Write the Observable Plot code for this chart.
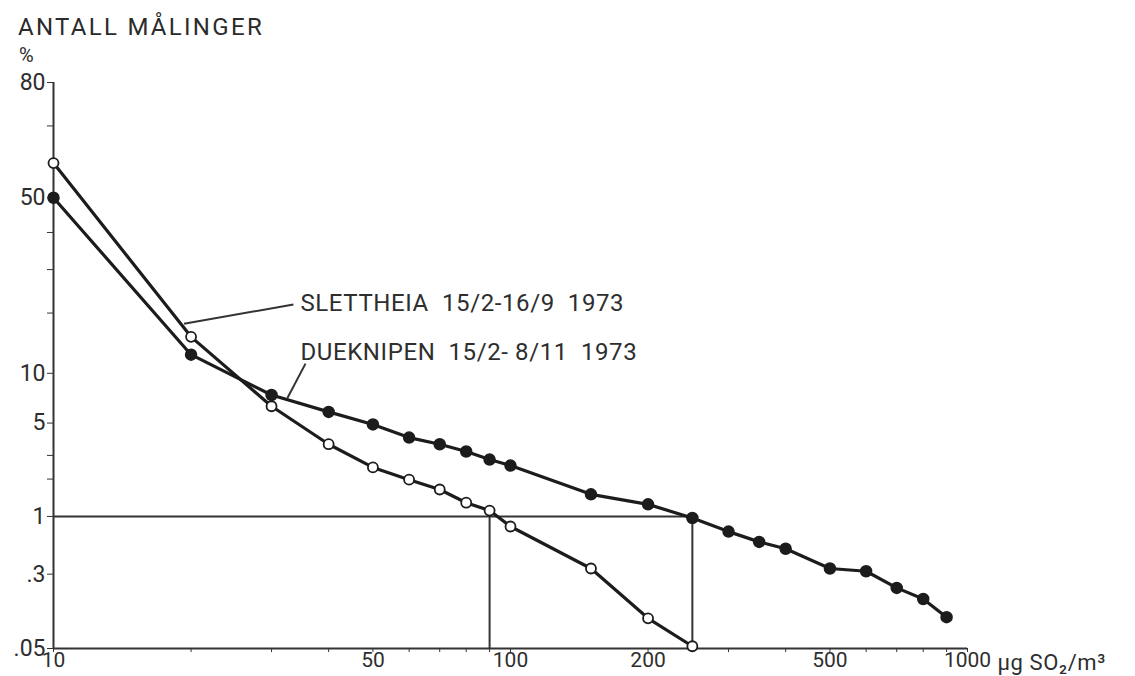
<!DOCTYPE html>
<html>
<head>
<meta charset="utf-8">
<script src="https://cdn.jsdelivr.net/npm/d3@7"></script>
<script src="https://cdn.jsdelivr.net/npm/@observablehq/plot@0.6"></script>
<style>
  html, body { margin: 0; padding: 0; background: #fff; }
  #wrap { position: relative; width: 1135px; height: 676px; overflow: hidden; font-family: Roboto, "DejaVu Sans", sans-serif; color: #2b2b2b; }
  #title { position: absolute; left: 18px; top: 13px; font-size: 24px; letter-spacing: 2.3px; }
  #pct { position: absolute; left: 19px; top: 44px; font-size: 20px; line-height: 22px; }
  #chart svg g[aria-label="text"] text { letter-spacing: 0.6px; }
</style>
</head>
<body>
<div id="wrap">
  <div id="chart"></div>
  <div id="title">ANTALL MÅLINGER</div>
  <div id="pct">%</div>
</div>
<script>
// ---- data ----
const slettheiaX   = [10, 20, 30, 40, 50, 60, 70, 80, 90, 100, 150, 200, 250];
const slettheiaPct = [60, 15.5, 6.4, 3.6, 2.45, 1.98, 1.66, 1.30, 1.12, 0.82, 0.34, 0.107, 0.053];

const dueknipenX   = [10, 20, 30, 40, 50, 60, 70, 80, 90, 100, 150, 200, 250, 300, 350, 400, 500, 600, 700, 800, 900];
const dueknipenPct = [50, 12.6, 7.5, 5.9, 4.9, 4.0, 3.6, 3.2, 2.8, 2.53, 1.52, 1.26, 0.97, 0.74, 0.60, 0.52, 0.34, 0.32, 0.22, 0.17, 0.11];

const seriesNames  = ["SLETTHEIA  15/2-16/9  1973", "DUEKNIPEN  15/2- 8/11  1973"];

const xTicks       = [10, 20, 30, 40, 50, 60, 70, 80, 90, 100, 200, 300, 400, 500, 600, 700, 800, 900, 1000];
const xTickLabels  = ["10", "", "", "", "50", "", "", "", "", "100", "200", "", "", "500", "", "", "", "", "1000"];
const yTicks       = [80, 70, 50, 40, 30, 20, 10, 5, 3, 2, 1, 0.3, 0.05];
const yTickLabels  = ["80", "", "50", "", "", "", "10", "5", "", "", "1", ".3", ".05"];
const unitLabel    = "µg SO₂/m³";

// reference (crossing) lines: 1 % level and the two crossing concentrations
const refLevel     = 1;
const refX         = [90, 250];

// leader lines from labels to curves
const leaderFrom   = [[33.5, 21.8], [35.6, 11.3]];
const leaderTo     = [[19.3, 17.9], [32.5, 7.2]];
const labelPos     = [[34.7, 22], [34.7, 12.9]];

// ---- probability (probit) transform of a percentage ----
function probit(pct) {
  const p = pct / 100;
  const a = [-3.969683028665376e+01, 2.209460984245205e+02, -2.759285104469687e+02, 1.383577518672690e+02, -3.066479806614716e+01, 2.506628277459239e+00];
  const b = [-5.447609879822406e+01, 1.615858368580409e+02, -1.556989798598866e+02, 6.680131188771972e+01, -1.328068155288572e+01];
  const c = [-7.784894002430293e-03, -3.223964580411365e-01, -2.400758277161838e+00, -2.549732539343734e+00, 4.374664141464968e+00, 2.938163982698783e+00];
  const d = [7.784695709041462e-03, 3.224671290700398e-01, 2.445134137142996e+00, 3.754408661907416e+00];
  const pl = 0.02425;
  let q, r;
  if (p < pl) {
    q = Math.sqrt(-2 * Math.log(p));
    return (((((c[0]*q+c[1])*q+c[2])*q+c[3])*q+c[4])*q+c[5]) / ((((d[0]*q+d[1])*q+d[2])*q+d[3])*q+1);
  } else if (p <= 1 - pl) {
    q = p - 0.5; r = q*q;
    return (((((a[0]*r+a[1])*r+a[2])*r+a[3])*r+a[4])*r+a[5])*q / (((((b[0]*r+b[1])*r+b[2])*r+b[3])*r+b[4])*r+1);
  } else {
    q = Math.sqrt(-2 * Math.log(1 - p));
    return -(((((c[0]*q+c[1])*q+c[2])*q+c[3])*q+c[4])*q+c[5]) / ((((d[0]*q+d[1])*q+d[2])*q+d[3])*q+1);
  }
}

const sl = slettheiaX.map((x, i) => ({x, y: probit(slettheiaPct[i])}));
const du = dueknipenX.map((x, i) => ({x, y: probit(dueknipenPct[i])}));
const yLabelMap = new Map(yTicks.map((t, i) => [probit(t), yTickLabels[i]]));
const xLabelMap = new Map(xTicks.map((t, i) => [t, xTickLabels[i]]));

const yBottom = probit(0.05), yTop = probit(80);
const ink = "#1c1c1c";
const textCol = "#2e2e2e";

const chart = Plot.plot({
  width: 1135,
  height: 676,
  marginLeft: 53,
  marginRight: 168,
  marginTop: 82,
  marginBottom: 28,
  style: {fontFamily: "Roboto, 'DejaVu Sans', sans-serif", fontSize: "23px", color: textCol, background: "white"},
  x: {type: "log", domain: [10, 1000]},
  y: {type: "linear", domain: [yBottom, yTop]},
  marks: [
    // axis lines
    Plot.ruleX([10], {y1: yBottom, y2: yTop, stroke: "#333", strokeWidth: 2}),
    Plot.ruleY([yBottom], {x1: 10, x2: 1000, stroke: "#333", strokeWidth: 2}),
    Plot.axisX({ticks: xTicks, tickFormat: d => xLabelMap.get(d) ?? "", tickSize: 4, tickPadding: 0, fontSize: 21, stroke: "#333", fill: textCol, label: null}),
    Plot.axisY({ticks: yTicks.map(probit), tickFormat: d => yLabelMap.get(d) ?? "", tickSize: 6, tickPadding: 2, stroke: "#333", fill: textCol, label: null}),
    // unit label after 1000
    Plot.text([unitLabel], {x: [1000], y: [yBottom], text: d => d, textAnchor: "start", dx: 30, dy: 14, fontSize: 22, fill: textCol}),
    // reference lines
    Plot.ruleY([probit(refLevel)], {x1: 10, x2: refX[1], stroke: "#333", strokeWidth: 2}),
    Plot.ruleX(refX, {y1: probit(refLevel), y2: yBottom, stroke: "#333", strokeWidth: 2}),
    // leader lines
    Plot.link(leaderFrom.map((f, i) => ({x1: f[0], y1: probit(f[1]), x2: leaderTo[i][0], y2: probit(leaderTo[i][1])})),
      {x1: "x1", y1: "y1", x2: "x2", y2: "y2", stroke: "#333", strokeWidth: 2}),
    // series labels
    Plot.text(labelPos.map((p, i) => ({x: p[0], y: probit(p[1]), t: seriesNames[i]})),
      {x: "x", y: "y", text: "t", textAnchor: "start", fontSize: 24, fill: textCol}),
    // curves
    Plot.line(du, {x: "x", y: "y", stroke: ink, strokeWidth: 3.2}),
    Plot.line(sl, {x: "x", y: "y", stroke: ink, strokeWidth: 3.2}),
    Plot.dot(du, {x: "x", y: "y", r: 5.5, fill: ink, stroke: ink}),
    Plot.dot(sl, {x: "x", y: "y", r: 5, fill: "white", stroke: ink, strokeWidth: 1.8})
  ]
});
document.getElementById("chart").appendChild(chart);
</script>
</body>
</html>
